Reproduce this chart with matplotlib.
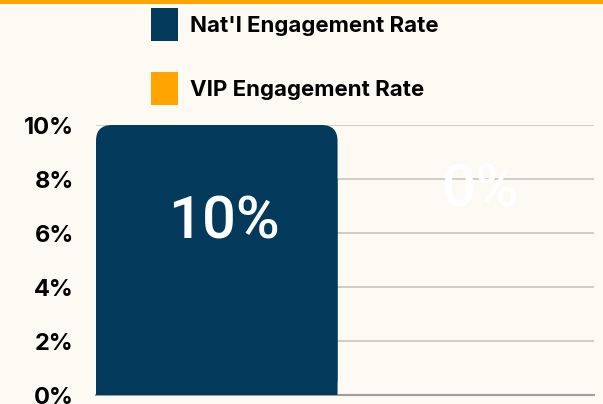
import matplotlib
matplotlib.use('Agg')
import matplotlib.pyplot as plt
from matplotlib.patches import FancyBboxPatch, Rectangle

# data
series = ["Nat'l Engagement Rate", "VIP Engagement Rate"]
values = [10, 0]
labels = ["10%", "0%"]
label_y = [6.4, 7.6]
yticks = [0, 2, 4, 6, 8, 10]
ytick_labels = ["0%", "2%", "4%", "6%", "8%", "10%"]

navy = '#033A5B'
orange = '#FFA400'
bg = '#FDFAF4'

fig = plt.figure(figsize=(6.03, 4.04), dpi=100, facecolor=bg)
ax = fig.add_axes([96/603, 9/404, 498/603, 270/404])
ax.set_facecolor(bg)

colors = [navy, orange]
xs = [0, 1.03]
w = 0.97
handles = []
for x, v, c, name in zip(xs, values, colors, series):
    b = ax.bar(x, v, width=w, align='edge', color=c, label=name, zorder=3)
    handles.append(Rectangle((0, 0), 1, 1, fc=c, ec='none'))
    if v > 0:
        # rounded top corners: round patch on top, plain bar covers the lower part
        r = 0.065
        b[0].set_height(v * 0.8)
        b[0].set_snap(False)
        ax.add_patch(FancyBboxPatch((x, 0), w, v,
                                    boxstyle=f"round,pad=0,rounding_size={r}",
                                    mutation_aspect=9.0, fc=c, ec='none', zorder=3))

for x, t, ly in zip(xs, labels, label_y):
    ax.text(x + w / 2 + 0.03, ly, t, color='white', fontsize=43, family='Roboto',
            fontweight='medium', ha='center', va='center', zorder=4)

ax.set_xlim(0, 2)
ax.set_ylim(0, 10)
ax.set_yticks(yticks)
ax.set_yticklabels(ytick_labels, family='Inter', fontweight='bold', fontsize=17)
ax.tick_params(axis='y', length=0, pad=16)
ax.set_xticks([])
ax.grid(axis='y', color='#C9C5BF', lw=1.2, zorder=0)
for s in ['left', 'right', 'top']:
    ax.spines[s].set_visible(False)
ax.spines['bottom'].set_color('#A09C98')
ax.spines['bottom'].set_linewidth(1.5)

fig.legend(handles, series, loc='upper left', bbox_to_anchor=(151/603, 1 - 8/404),
           frameon=False, prop={'family': 'Inter', 'weight': 'bold', 'size': 16},
           handlelength=1.22, handleheight=1.9, handletextpad=0.52, labelspacing=1.4,
           borderaxespad=0, borderpad=0)

fig.add_artist(Rectangle((0, 1 - 4/404), 1, 4/404, transform=fig.transFigure,
                         fc=orange, ec='none'))

fig.savefig('out.png', dpi=100, facecolor=bg)
